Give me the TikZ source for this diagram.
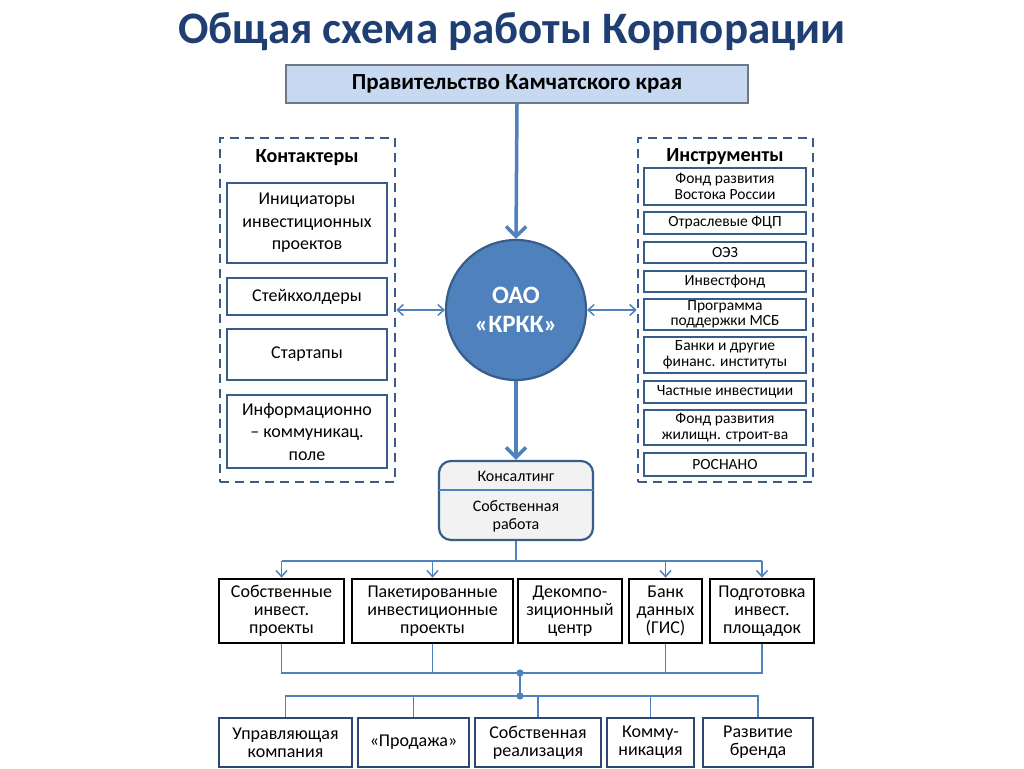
\documentclass[tikz,border=0pt]{standalone}
\usepackage{fontspec}
\setmainfont{Carlito}
\usetikzlibrary{arrows.meta}
\definecolor{titlec}{RGB}{31,63,115}
\definecolor{govfill}{RGB}{198,217,241}
\definecolor{govline}{RGB}{110,120,135}
\definecolor{boxc}{RGB}{56,93,138}
\definecolor{grpc}{RGB}{60,92,135}
\definecolor{rowc}{RGB}{44,72,112}
\definecolor{arrc}{RGB}{79,129,189}
\definecolor{circfill}{RGB}{79,129,189}
\definecolor{circline}{RGB}{56,93,138}
\definecolor{consfill}{RGB}{242,242,242}
\tikzset{
  lbox/.style={draw=boxc, line width=2.4pt, fill=white, align=center, inner sep=0pt, font=\fontsize{18}{22.5}\selectfont},
  rbox/.style={draw=boxc, line width=2.2pt, fill=white, align=center, inner sep=0pt, minimum width=162pt, font=\fontsize{15.5}{15.5}\selectfont},
  grp/.style={draw=grpc, line width=2.5pt, dash pattern=on 9pt off 6pt, inner sep=0pt},
  kbox/.style={draw=black, line width=2.8pt, fill=white, align=center, inner sep=0pt, minimum height=64pt, font=\fontsize{18}{18}\selectfont},
  dbox/.style={draw=rowc, line width=2.8pt, fill=white, align=center, inner sep=0pt, minimum height=49pt, font=\fontsize{18}{18}\selectfont},
  conn/.style={draw=arrc, line width=1.5pt},
  tarrow/.style={conn, -{Straight Barb[length=6pt,width=11pt,line width=1.5pt]}},
  darrow/.style={conn, {Straight Barb[length=6pt,width=11pt,line width=1.5pt]}-{Straight Barb[length=6pt,width=11pt,line width=1.5pt]}},
  bigarrow/.style={draw=arrc, line width=3.5pt, -{Straight Barb[length=10pt,width=20pt,line width=3.5pt]}},
  heading/.style={inner sep=0pt, font=\fontsize{20}{24}\selectfont\bfseries}
}
\begin{document}
\begin{tikzpicture}[x=1pt,y=-1pt]
\clip (0,0) rectangle (1024,768);
\fill[white] (0,0) rectangle (1024,768);

% title
\node[inner sep=0pt, text=titlec, font=\fontsize{45}{54}\selectfont\bfseries] (title) at (512,32) {Общая схема работы Корпорации};

% government
\node[draw=govline, fill=govfill, line width=1.5pt, minimum width=462pt, minimum height=38pt, inner sep=0pt, font=\fontsize{23}{27}\selectfont\bfseries] (gov) at (517,84) {Правительство Камчатского края};

% central circle
\node[circle, draw=circline, fill=circfill, line width=2.2pt, minimum size=140pt, inner sep=0pt, align=center, text=white, font=\fontsize{25}{29}\selectfont\bfseries] (krkk) at (516,310) {ОАО\\«КРКК»};

% left group
\node[grp, minimum width=175pt, minimum height=344pt] (lgrp) at (307.5,310) {};
\node[heading] (lhead) at (307,158) {Контактеры};
\node[lbox, minimum width=160pt, minimum height=80pt] (la) at (307,223) {Инициаторы\\инвестиционных\\проектов};
\node[lbox, minimum width=160pt, minimum height=37pt] (lb) at (307,296.5) {Стейкхолдеры};
\node[lbox, minimum width=160pt, minimum height=51pt] (lc) at (307,354.5) {Стартапы};
\node[lbox, minimum width=160pt, minimum height=73pt] (ld) at (307,431.5) {Информационно\\– коммуникац.\\поле};

% right group
\node[grp, minimum width=175pt, minimum height=344pt] (rgrp) at (725.5,310) {};
\node[heading] (rhead) at (725,157) {Инструменты};
\node[rbox, minimum height=37pt] (r1) at (725,186.5) {Фонд развития\\Востока России};
\node[rbox, minimum height=22pt] (r2) at (725,223) {Отраслевые ФЦП};
\node[rbox, minimum height=21pt] (r3) at (725,252.5) {ОЭЗ};
\node[rbox, minimum height=21pt] (r4) at (725,281.5) {Инвестфонд};
\node[rbox, minimum height=31pt] (r5) at (725,314.5) {Программа\\поддержки МСБ};
\node[rbox, minimum height=36pt] (r6) at (725,355) {Банки и другие\\финанс. институты};
\node[rbox, minimum height=22pt] (r7) at (725,392) {Частные инвестиции};
\node[rbox, minimum height=35pt] (r8) at (725,427.5) {Фонд развития\\жилищн. строит-ва};
\node[rbox, minimum height=23pt] (r9) at (725,464.5) {РОСНАНО};

% consulting
\node[draw=boxc, fill=consfill, line width=2.2pt, rounded corners=12pt, minimum width=154pt, minimum height=79pt, inner sep=0pt] (cons) at (516,500.5) {};
\coordinate (divl) at (439,490);
\coordinate (divr) at (593,490);
\draw[draw=arrc, line width=1.2pt] (divl) -- (divr);
\node[inner sep=0pt, font=\fontsize{16}{18}\selectfont] (consA) at (516,476) {Консалтинг};
\node[inner sep=0pt, align=center, font=\fontsize{16}{18}\selectfont] (consB) at (516,516) {Собственная\\работа};

% main arrows
\draw[bigarrow] (gov.south) -- (krkk.north);
\draw[bigarrow] (krkk.south) -- (cons.north);
\draw[darrow] (lgrp.east) -- (krkk.west);
\draw[darrow] (krkk.east) -- (rgrp.west);

% row 1
\node[kbox, minimum width=125pt] (b1) at (281.5,611) {Собственные\\инвест.\\проекты};
\node[kbox, minimum width=161pt] (b2) at (432.5,611) {Пакетированные\\инвестиционные\\проекты};
\node[kbox, minimum width=104pt] (b3) at (570,611) {Декомпо-\\зиционный\\центр};
\node[kbox, minimum width=73pt] (b4) at (665.5,611) {Банк\\данных\\(ГИС)};
\node[kbox, minimum width=104pt] (b5) at (762,611) {Подготовка\\инвест.\\площадок};

% row 2
\node[dbox, minimum width=133pt] (c1) at (285.5,742.5) {Управляющая\\компания};
\node[dbox, minimum width=111pt] (c2) at (413.5,742.5) {«Продажа»};
\node[dbox, minimum width=126pt] (c3) at (538,742.5) {Собственная\\реализация};
\node[dbox, minimum width=87pt] (c4) at (650.5,742.5) {Комму-\\никация};
\node[dbox, minimum width=110pt] (c5) at (758,742.5) {Развитие\\бренда};

% bus from consulting
\coordinate (bus1) at (516,561);
\draw[conn] (cons.south) -- (bus1);
\draw[conn] (b1.north |- bus1) -- (b5.north |- bus1);
\draw[tarrow] (b1.north |- bus1) -- (b1.north);
\draw[tarrow] (b2.north |- bus1) -- (b2.north);
\draw[tarrow] (b4.north |- bus1) -- (b4.north);
\draw[tarrow] (b5.north |- bus1) -- (b5.north);

% bus between rows
\coordinate (bus2) at (520,673);
\coordinate (bus3) at (520,696);
\draw[conn] (b1.south) -- (b1.south |- bus2) -- (b5.south |- bus2) -- (b5.south);
\draw[conn] (b2.south) -- (b2.south |- bus2);
\draw[conn] (b4.south) -- (b4.south |- bus2);
\draw[conn] (bus2) -- (bus3);
\fill[arrc] (bus2) circle (3.6pt);
\fill[arrc] (bus3) circle (3.6pt);
\draw[conn] (c1.north) -- (c1.north |- bus3) -- (c5.north |- bus3) -- (c5.north);
\draw[conn] (c2.north) -- (c2.north |- bus3);
\draw[conn] (c3.north) -- (c3.north |- bus3);
\draw[conn] (c4.north) -- (c4.north |- bus3);
\end{tikzpicture}
\end{document}
